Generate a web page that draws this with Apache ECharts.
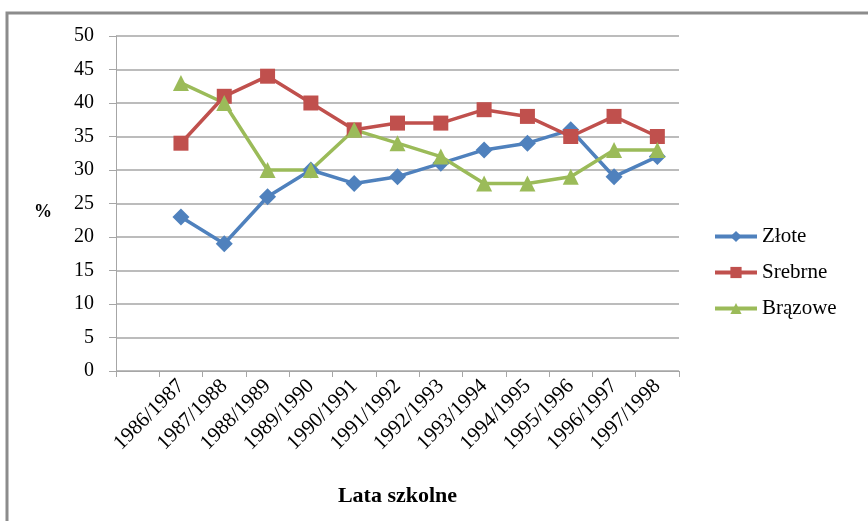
<!DOCTYPE html>
<html>
<head>
<meta charset="utf-8">
<script src="https://cdn.jsdelivr.net/npm/echarts@6/dist/echarts.min.js"></script>
<style>
  html, body { margin: 0; padding: 0; background: #fff; }
  #chart { width: 868px; height: 521px; }
</style>
</head>
<body>
<div id="chart"></div>
<script>
// School years (the axis keeps one empty leading slot)
const years = ['1986/1987', '1987/1988', '1988/1989', '1989/1990', '1990/1991', '1991/1992',
  '1992/1993', '1993/1994', '1994/1995', '1995/1996', '1996/1997', '1997/1998'];
// Shares in percent
const zlote   = [23, 19, 26, 30, 28, 29, 31, 33, 34, 36, 29, 32];
const srebrne = [34, 41, 44, 40, 36, 37, 37, 39, 38, 35, 38, 35];
const brazowe = [43, 40, 30, 30, 36, 34, 32, 28, 28, 29, 33, 33];
const yTicks = { min: 0, max: 50, interval: 5 };

const font = 'Liberation Serif, Times New Roman, serif';
const gridColor = '#a6a6a6';

const chart = echarts.init(document.getElementById('chart'));

function line(name, values, color, symbol, size) {
  return {
    name: name,
    type: 'line',
    data: [null].concat(values),
    symbol: symbol,
    symbolSize: size,
    connectNulls: false,
    lineStyle: { color: color, width: 3.5 },
    itemStyle: { color: color },
    emphasis: { disabled: true },
    animation: false
  };
}

chart.setOption({
  backgroundColor: '#fff',
  animation: false,
  graphic: [{
    type: 'rect',
    shape: { x: 7, y: 13, width: 900, height: 560 },
    style: { fill: 'none', stroke: '#8c8c8c', lineWidth: 3 },
    silent: true
  }, {
    type: 'text',
    left: 34,
    top: 203,
    style: { text: '%', font: 'bold 18px ' + font, fill: '#000' },
    silent: true
  }],
  grid: { left: 116, right: 189, top: 36, bottom: 150 },
  legend: {
    orient: 'vertical',
    left: 708,
    top: 221,
    itemWidth: 42,
    itemHeight: 14,
    itemGap: 15,
    lineStyle: { width: 4 },
    textStyle: { fontFamily: font, fontSize: 21, color: '#000' },
    data: ['Złote', 'Srebrne', 'Brązowe']
  },
  xAxis: {
    type: 'category',
    data: [''].concat(years),
    boundaryGap: true,
    name: 'Lata szkolne',
    nameLocation: 'middle',
    nameGap: 114,
    nameTextStyle: { fontFamily: font, fontSize: 22, fontWeight: 'bold', color: '#000' },
    axisLine: { lineStyle: { color: gridColor, width: 1 } },
    axisTick: { show: true, length: 6, alignWithLabel: false, lineStyle: { color: gridColor } },
    axisLabel: {
      rotate: 45,
      interval: 0,
      margin: 12,
      fontFamily: font,
      fontSize: 21,
      color: '#000'
    },
    splitLine: { show: false }
  },
  yAxis: {
    type: 'value',
    min: yTicks.min,
    max: yTicks.max,
    interval: yTicks.interval,
    axisLine: { show: true, lineStyle: { color: gridColor, width: 1 } },
    axisTick: { show: true, length: 7, lineStyle: { color: gridColor } },
    axisLabel: { margin: 22, fontFamily: font, fontSize: 20, color: '#000' },
    splitLine: { lineStyle: { color: gridColor, width: 1.5 } }
  },
  series: [
    line('Złote', zlote, '#4f81bd', 'diamond', 17),
    line('Srebrne', srebrne, '#c0504d', 'rect', 15),
    line('Brązowe', brazowe, '#9bbb59', 'triangle', 16)
  ]
});
</script>
</body>
</html>
